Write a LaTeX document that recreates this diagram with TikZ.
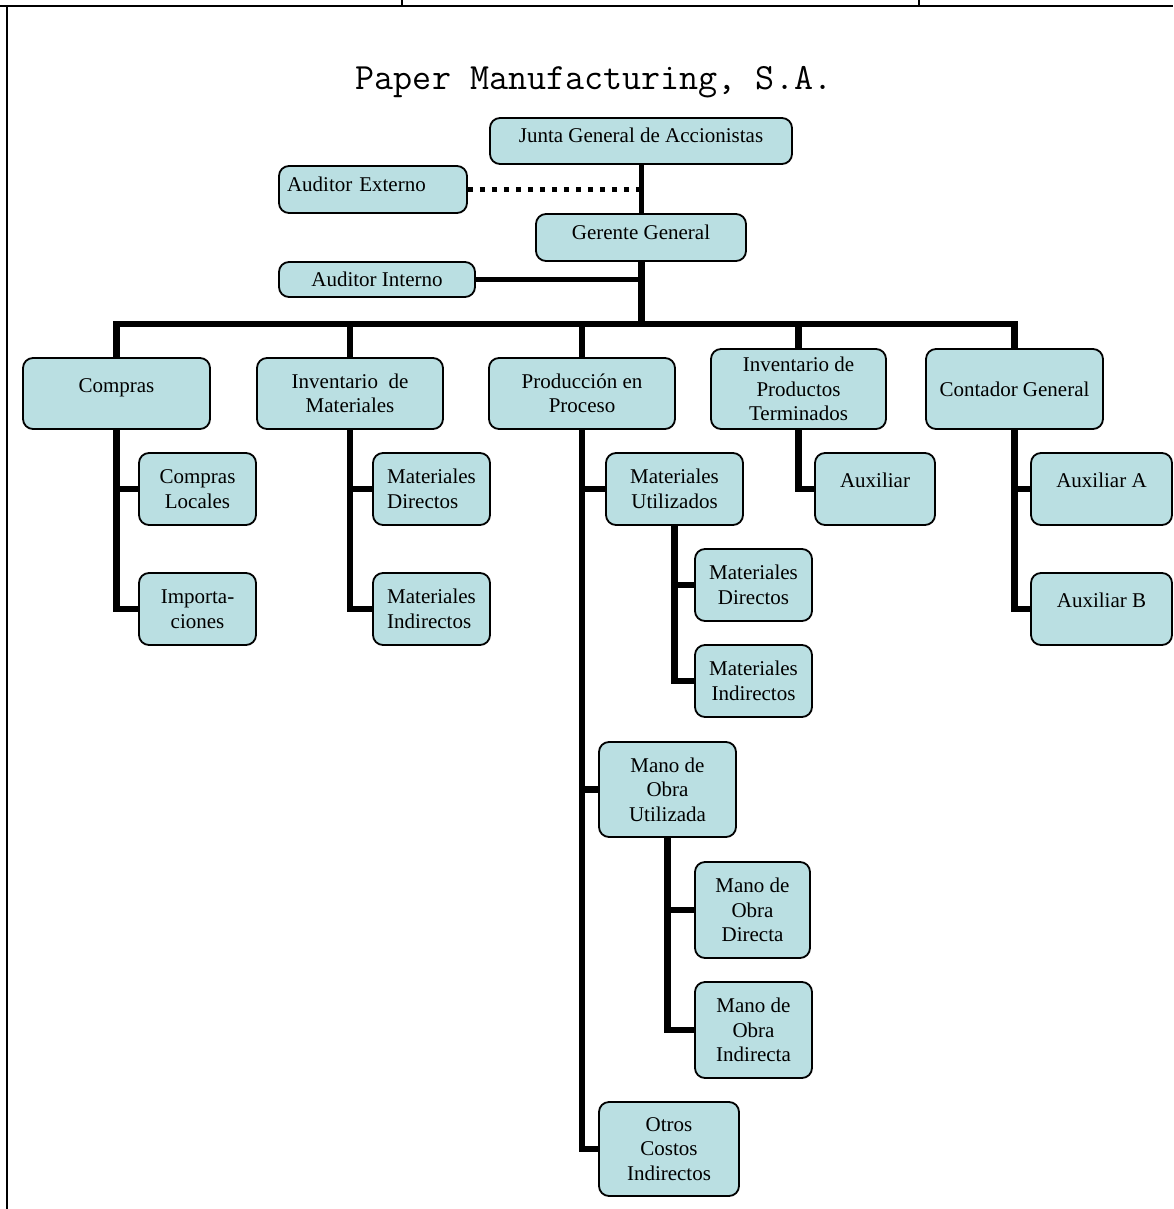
\documentclass[tikz,border=0pt]{standalone}
\usepackage{fontspec}
\setmainfont{Liberation Serif}
\usepackage{tikz}
\usetikzlibrary{positioning}
\pgfdeclarelayer{edgelayer}
\pgfdeclarelayer{nodelayer}
\pgfsetlayers{edgelayer,nodelayer,main}
\definecolor{cajafill}{RGB}{186,223,226}
\tikzset{font=\fontsize{21}{24.5}\selectfont}
\tikzstyle{caja}=[draw,fill=cajafill,line width=1.8pt,rounded corners=10pt,align=center,inner sep=3pt]
\tikzstyle{arriba}=[text height=15pt,text depth=18pt]
\tikzstyle{linea}=[line width=6.5pt]
\tikzstyle{codo}=[to path={|- (\tikztotarget)}]
\tikzstyle{codoh}=[to path={-| (\tikztotarget)}]

\begin{document}
\begin{tikzpicture}[x=1pt,y=-1pt]
\useasboundingbox (0,0) rectangle (1173,1209);
% marco de la tabla
\draw[line width=2.5pt] (0,6) -- (1173,6);
\draw[line width=2pt] (6.5,6) -- (6.5,1209);
\draw[line width=1.5pt] (402,0) -- (402,6);
\draw[line width=1.5pt] (919,0) -- (919,6);
\node (titulo) at (594,90) [anchor=base,font=\ttfamily\fontsize{37}{41}\selectfont] {Paper Manufacturing, S.A.};
% direccion
\node[caja,arriba,text depth=12pt,minimum width=302pt,minimum height=46pt] (junta) at (641,141) {Junta General de Accionistas};
\node[caja,arriba,text depth=12pt,minimum width=188pt,minimum height=47pt,text width=172pt,align=left] (audext) at (373,189.5) {Auditor Externo};
\node[caja,arriba,text depth=12pt,minimum width=210pt,minimum height=47pt] (ger) at (641,237.5) {Gerente General};
\node[caja,minimum width=196pt,minimum height=35pt] (audint) at (377,279.5) {Auditor Interno};
% departamentos
\node[caja,arriba,minimum width=187pt,minimum height=71pt] (comp) at (116.5,393.5) {Compras};
\node[caja,minimum width=186pt,minimum height=71pt] (invmat) at (350,393.5) {Inventario \ de\\Materiales};
\node[caja,minimum width=186pt,minimum height=71pt] (prod) at (582,393.5) {Producción en\\Proceso};
\node[caja,minimum width=175pt,minimum height=80pt] (invpt) at (798.5,389) {Inventario de\\Productos\\Terminados};
\node[caja,text height=15pt,text depth=0pt,minimum width=177pt,minimum height=80pt] (cont) at (1014.5,389) {Contador General};
% secciones
\node[caja,minimum width=117pt,minimum height=72pt] (compl) at (197.5,489) {Compras\\Locales};
\node[caja,minimum width=117pt,minimum height=72pt] (impor) at (197.5,609) {Importa-\\ciones};
\node[caja,align=left,minimum width=117pt,minimum height=72pt] (matd) at (431.5,489) {Materiales\\Directos};
\node[caja,align=left,minimum width=117pt,minimum height=72pt] (mati) at (431.5,609) {Materiales\\Indirectos};
\node[caja,minimum width=137pt,minimum height=72pt] (matu) at (674.5,489) {Materiales\\Utilizados};
\node[caja,minimum width=117pt,minimum height=72pt] (matud) at (753.5,585) {Materiales\\Directos};
\node[caja,minimum width=117pt,minimum height=72pt] (matui) at (753.5,681) {Materiales\\Indirectos};
\node[caja,arriba,minimum width=120pt,minimum height=72pt] (aux) at (875,489) {Auxiliar};
\node[caja,arriba,minimum width=141pt,minimum height=72pt] (auxa) at (1101.5,489) {Auxiliar A};
\node[caja,arriba,minimum width=141pt,minimum height=72pt] (auxb) at (1101.5,609) {Auxiliar B};
\node[caja,minimum width=137pt,minimum height=95pt] (mou) at (667.5,789.5) {Mano de\\Obra\\Utilizada};
\node[caja,minimum width=115pt,minimum height=96pt] (mod) at (752.5,910) {Mano de\\Obra\\Directa};
\node[caja,minimum width=117pt,minimum height=96pt] (moi) at (753.5,1030) {Mano de\\Obra\\Indirecta};
\node[caja,minimum width=140pt,minimum height=94pt] (otros) at (669,1149) {Otros\\Costos\\Indirectos};
% lineas
\begin{pgfonlayer}{edgelayer}
\path[line width=5pt] (junta.south) edge (ger.north)
  (audint.east) edge (audint.east -| ger.south);
\path[line width=5pt,dash pattern=on 5pt off 7pt] (audext.east) edge (audext.east -| junta.south);
\coordinate (barra) at (641,324);
\path[line width=7pt] (ger.south) edge (barra);
\path[linea]
(barra) edge[codoh] (comp.north)
(barra) edge[codoh] (invmat.north)
(barra) edge[codoh] (prod.north)
(barra) edge[codoh] (invpt.north)
(barra) edge[codoh] (cont.north)
(comp.south) edge[codo] (compl.west)
(comp.south) edge[codo] (impor.west)
(invmat.south) edge[codo] (matd.west)
(invmat.south) edge[codo] (mati.west)
(prod.south) edge[codo] (matu.west)
(prod.south) edge[codo] (mou.west)
(prod.south) edge[codo] (otros.west)
(matu.south) edge[codo] (matud.west)
(matu.south) edge[codo] (matui.west)
(mou.south) edge[codo] (mod.west)
(mou.south) edge[codo] (moi.west)
(invpt.south) edge[codo] (aux.west)
(cont.south) edge[codo] (auxa.west)
(cont.south) edge[codo] (auxb.west);
\end{pgfonlayer}
\end{tikzpicture}
\end{document}
